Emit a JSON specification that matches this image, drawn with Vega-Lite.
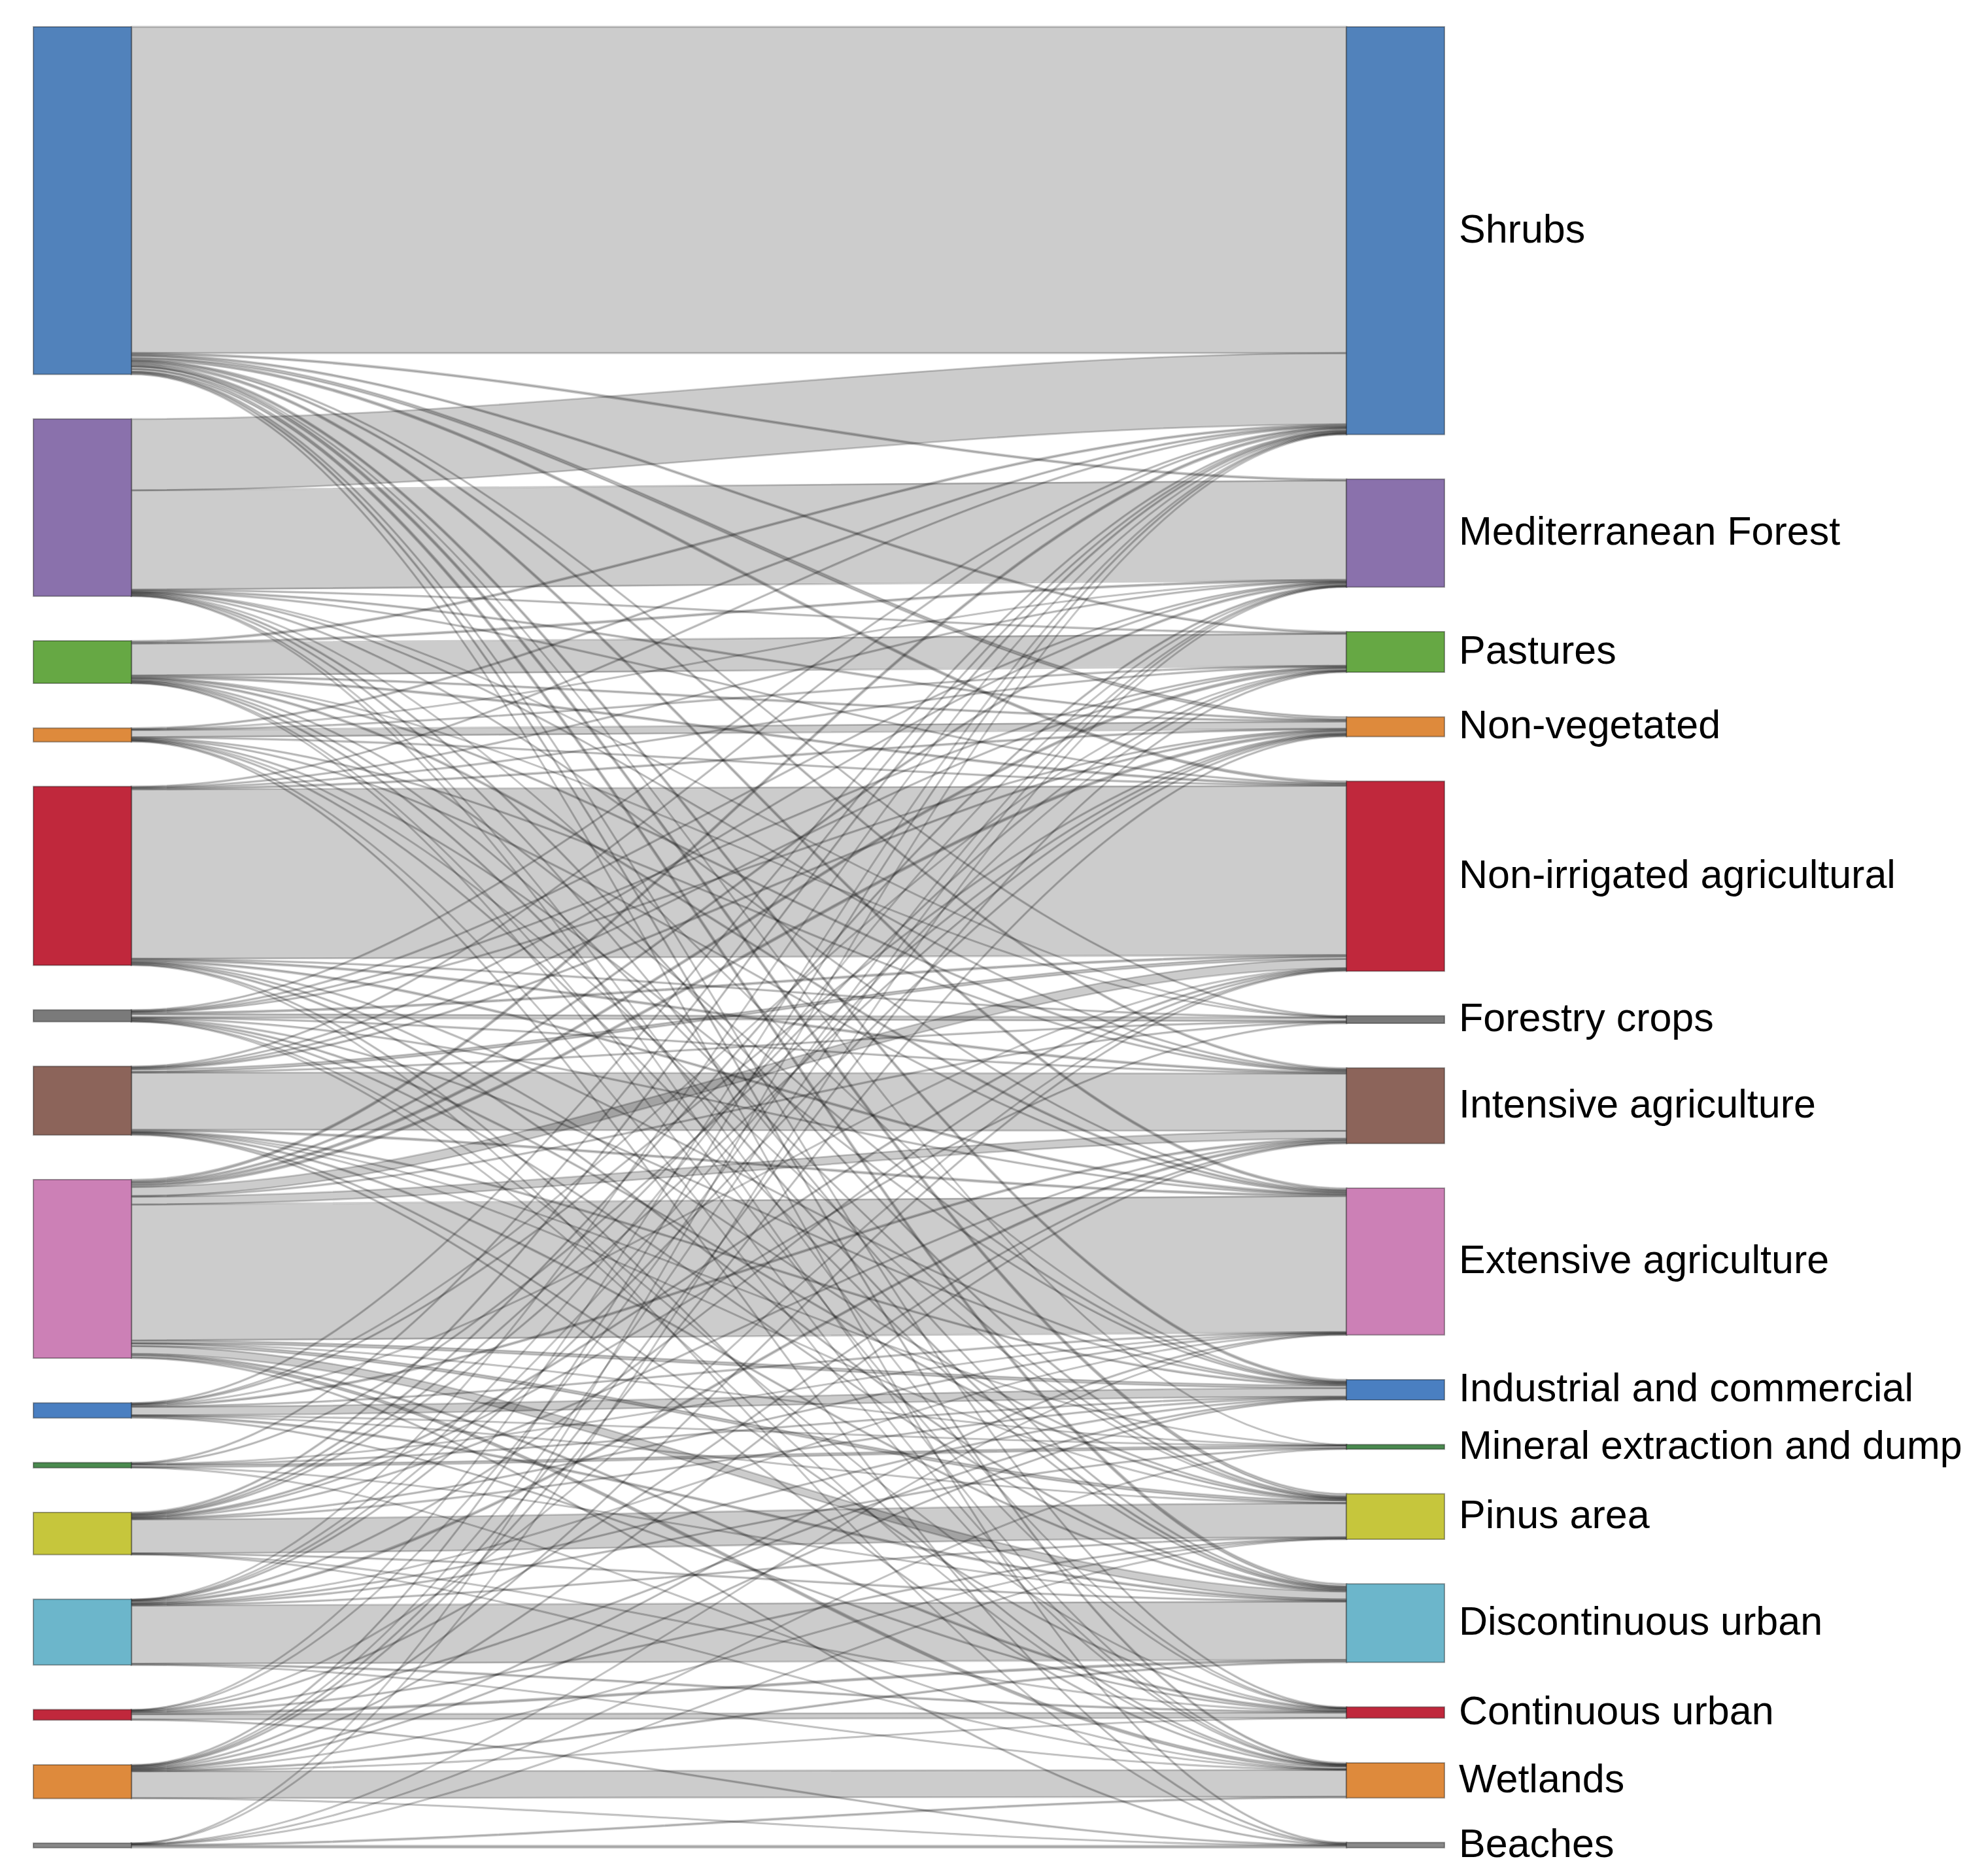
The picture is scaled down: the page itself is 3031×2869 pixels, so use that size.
{
  "$schema": "https://vega.github.io/schema/vega-lite/v6.json",
  "width": 2158,
  "height": 2786,
  "autosize": {"type": "none"},
  "padding": {"left": 51, "top": 41, "right": 822, "bottom": 42},
  "background": "white",
  "config": {"view": {"stroke": null}},
  "datasets": {
    "nodes": [
      {"node": "Shrubs", "rank": 1},
      {"node": "Mediterranean Forest", "rank": 2},
      {"node": "Pastures", "rank": 3},
      {"node": "Non-vegetated", "rank": 4},
      {"node": "Non-irrigated agricultural", "rank": 5},
      {"node": "Forestry crops", "rank": 6},
      {"node": "Intensive agriculture", "rank": 7},
      {"node": "Extensive agriculture", "rank": 8},
      {"node": "Industrial and commercial", "rank": 9},
      {"node": "Mineral extraction and dump", "rank": 10},
      {"node": "Pinus area", "rank": 11},
      {"node": "Discontinuous urban", "rank": 12},
      {"node": "Continuous urban", "rank": 13},
      {"node": "Wetlands", "rank": 14},
      {"node": "Beaches", "rank": 15}
    ],
    "flows": [
      {"from": "Shrubs", "to": "Shrubs", "value": 499},
      {"from": "Shrubs", "to": "Mediterranean Forest", "value": 2},
      {"from": "Shrubs", "to": "Pastures", "value": 2},
      {"from": "Shrubs", "to": "Non-vegetated", "value": 4},
      {"from": "Shrubs", "to": "Non-irrigated agricultural", "value": 3},
      {"from": "Shrubs", "to": "Forestry crops", "value": 1},
      {"from": "Shrubs", "to": "Intensive agriculture", "value": 2},
      {"from": "Shrubs", "to": "Extensive agriculture", "value": 3},
      {"from": "Shrubs", "to": "Industrial and commercial", "value": 3},
      {"from": "Shrubs", "to": "Mineral extraction and dump", "value": 0.5},
      {"from": "Shrubs", "to": "Pinus area", "value": 4},
      {"from": "Shrubs", "to": "Discontinuous urban", "value": 4},
      {"from": "Shrubs", "to": "Continuous urban", "value": 1},
      {"from": "Shrubs", "to": "Wetlands", "value": 2},
      {"from": "Shrubs", "to": "Beaches", "value": 1},
      {"from": "Mediterranean Forest", "to": "Shrubs", "value": 109},
      {"from": "Mediterranean Forest", "to": "Mediterranean Forest", "value": 152},
      {"from": "Mediterranean Forest", "to": "Pastures", "value": 1},
      {"from": "Mediterranean Forest", "to": "Non-vegetated", "value": 1.5},
      {"from": "Mediterranean Forest", "to": "Non-irrigated agricultural", "value": 1},
      {"from": "Mediterranean Forest", "to": "Forestry crops", "value": 0.5},
      {"from": "Mediterranean Forest", "to": "Intensive agriculture", "value": 1},
      {"from": "Mediterranean Forest", "to": "Extensive agriculture", "value": 1},
      {"from": "Mediterranean Forest", "to": "Industrial and commercial", "value": 0.5},
      {"from": "Mediterranean Forest", "to": "Pinus area", "value": 1.5},
      {"from": "Mediterranean Forest", "to": "Discontinuous urban", "value": 1},
      {"from": "Mediterranean Forest", "to": "Continuous urban", "value": 0.5},
      {"from": "Mediterranean Forest", "to": "Wetlands", "value": 0.5},
      {"from": "Pastures", "to": "Shrubs", "value": 2},
      {"from": "Pastures", "to": "Mediterranean Forest", "value": 2},
      {"from": "Pastures", "to": "Pastures", "value": 49},
      {"from": "Pastures", "to": "Non-vegetated", "value": 1.5},
      {"from": "Pastures", "to": "Non-irrigated agricultural", "value": 2},
      {"from": "Pastures", "to": "Forestry crops", "value": 0.5},
      {"from": "Pastures", "to": "Intensive agriculture", "value": 1.5},
      {"from": "Pastures", "to": "Extensive agriculture", "value": 2},
      {"from": "Pastures", "to": "Industrial and commercial", "value": 1},
      {"from": "Pastures", "to": "Pinus area", "value": 1},
      {"from": "Pastures", "to": "Discontinuous urban", "value": 1.5},
      {"from": "Pastures", "to": "Continuous urban", "value": 0.5},
      {"from": "Pastures", "to": "Wetlands", "value": 0.5},
      {"from": "Non-vegetated", "to": "Shrubs", "value": 1.5},
      {"from": "Non-vegetated", "to": "Mediterranean Forest", "value": 0.5},
      {"from": "Non-vegetated", "to": "Pastures", "value": 1},
      {"from": "Non-vegetated", "to": "Non-vegetated", "value": 11},
      {"from": "Non-vegetated", "to": "Non-irrigated agricultural", "value": 1},
      {"from": "Non-vegetated", "to": "Intensive agriculture", "value": 1},
      {"from": "Non-vegetated", "to": "Extensive agriculture", "value": 1},
      {"from": "Non-vegetated", "to": "Industrial and commercial", "value": 1},
      {"from": "Non-vegetated", "to": "Pinus area", "value": 0.5},
      {"from": "Non-vegetated", "to": "Discontinuous urban", "value": 1},
      {"from": "Non-vegetated", "to": "Wetlands", "value": 0.5},
      {"from": "Non-vegetated", "to": "Beaches", "value": 1},
      {"from": "Non-irrigated agricultural", "to": "Shrubs", "value": 1},
      {"from": "Non-irrigated agricultural", "to": "Mediterranean Forest", "value": 1},
      {"from": "Non-irrigated agricultural", "to": "Pastures", "value": 1},
      {"from": "Non-irrigated agricultural", "to": "Non-vegetated", "value": 1.5},
      {"from": "Non-irrigated agricultural", "to": "Non-irrigated agricultural", "value": 259},
      {"from": "Non-irrigated agricultural", "to": "Forestry crops", "value": 1},
      {"from": "Non-irrigated agricultural", "to": "Intensive agriculture", "value": 2},
      {"from": "Non-irrigated agricultural", "to": "Extensive agriculture", "value": 2},
      {"from": "Non-irrigated agricultural", "to": "Industrial and commercial", "value": 1},
      {"from": "Non-irrigated agricultural", "to": "Pinus area", "value": 1},
      {"from": "Non-irrigated agricultural", "to": "Discontinuous urban", "value": 1.5},
      {"from": "Non-irrigated agricultural", "to": "Wetlands", "value": 1},
      {"from": "Non-irrigated agricultural", "to": "Beaches", "value": 0.5},
      {"from": "Forestry crops", "to": "Shrubs", "value": 1},
      {"from": "Forestry crops", "to": "Mediterranean Forest", "value": 1},
      {"from": "Forestry crops", "to": "Pastures", "value": 1},
      {"from": "Forestry crops", "to": "Non-vegetated", "value": 1},
      {"from": "Forestry crops", "to": "Non-irrigated agricultural", "value": 2},
      {"from": "Forestry crops", "to": "Forestry crops", "value": 5.5},
      {"from": "Forestry crops", "to": "Intensive agriculture", "value": 1},
      {"from": "Forestry crops", "to": "Extensive agriculture", "value": 1},
      {"from": "Forestry crops", "to": "Industrial and commercial", "value": 1},
      {"from": "Forestry crops", "to": "Pinus area", "value": 1.5},
      {"from": "Forestry crops", "to": "Discontinuous urban", "value": 1},
      {"from": "Forestry crops", "to": "Continuous urban", "value": 0.5},
      {"from": "Forestry crops", "to": "Wetlands", "value": 0.5},
      {"from": "Intensive agriculture", "to": "Shrubs", "value": 1},
      {"from": "Intensive agriculture", "to": "Mediterranean Forest", "value": 1},
      {"from": "Intensive agriculture", "to": "Pastures", "value": 1},
      {"from": "Intensive agriculture", "to": "Non-vegetated", "value": 1.5},
      {"from": "Intensive agriculture", "to": "Non-irrigated agricultural", "value": 4},
      {"from": "Intensive agriculture", "to": "Forestry crops", "value": 1},
      {"from": "Intensive agriculture", "to": "Intensive agriculture", "value": 87.5},
      {"from": "Intensive agriculture", "to": "Extensive agriculture", "value": 2},
      {"from": "Intensive agriculture", "to": "Industrial and commercial", "value": 1.5},
      {"from": "Intensive agriculture", "to": "Mineral extraction and dump", "value": 0.5},
      {"from": "Intensive agriculture", "to": "Pinus area", "value": 0.5},
      {"from": "Intensive agriculture", "to": "Discontinuous urban", "value": 1.5},
      {"from": "Intensive agriculture", "to": "Continuous urban", "value": 1},
      {"from": "Intensive agriculture", "to": "Wetlands", "value": 1},
      {"from": "Extensive agriculture", "to": "Shrubs", "value": 3},
      {"from": "Extensive agriculture", "to": "Mediterranean Forest", "value": 2},
      {"from": "Extensive agriculture", "to": "Pastures", "value": 3},
      {"from": "Extensive agriculture", "to": "Non-vegetated", "value": 3},
      {"from": "Extensive agriculture", "to": "Non-irrigated agricultural", "value": 14},
      {"from": "Extensive agriculture", "to": "Forestry crops", "value": 1},
      {"from": "Extensive agriculture", "to": "Intensive agriculture", "value": 12},
      {"from": "Extensive agriculture", "to": "Extensive agriculture", "value": 208},
      {"from": "Extensive agriculture", "to": "Industrial and commercial", "value": 4},
      {"from": "Extensive agriculture", "to": "Mineral extraction and dump", "value": 0.5},
      {"from": "Extensive agriculture", "to": "Pinus area", "value": 4},
      {"from": "Extensive agriculture", "to": "Discontinuous urban", "value": 12},
      {"from": "Extensive agriculture", "to": "Continuous urban", "value": 2},
      {"from": "Extensive agriculture", "to": "Wetlands", "value": 3.5},
      {"from": "Extensive agriculture", "to": "Beaches", "value": 1},
      {"from": "Industrial and commercial", "to": "Shrubs", "value": 1},
      {"from": "Industrial and commercial", "to": "Pastures", "value": 0.5},
      {"from": "Industrial and commercial", "to": "Non-vegetated", "value": 1},
      {"from": "Industrial and commercial", "to": "Non-irrigated agricultural", "value": 0.5},
      {"from": "Industrial and commercial", "to": "Intensive agriculture", "value": 2},
      {"from": "Industrial and commercial", "to": "Extensive agriculture", "value": 1},
      {"from": "Industrial and commercial", "to": "Industrial and commercial", "value": 13},
      {"from": "Industrial and commercial", "to": "Mineral extraction and dump", "value": 0.5},
      {"from": "Industrial and commercial", "to": "Pinus area", "value": 0.5},
      {"from": "Industrial and commercial", "to": "Discontinuous urban", "value": 2},
      {"from": "Industrial and commercial", "to": "Continuous urban", "value": 1},
      {"from": "Mineral extraction and dump", "to": "Shrubs", "value": 1},
      {"from": "Mineral extraction and dump", "to": "Non-vegetated", "value": 1},
      {"from": "Mineral extraction and dump", "to": "Extensive agriculture", "value": 0.5},
      {"from": "Mineral extraction and dump", "to": "Industrial and commercial", "value": 1},
      {"from": "Mineral extraction and dump", "to": "Mineral extraction and dump", "value": 3.5},
      {"from": "Mineral extraction and dump", "to": "Discontinuous urban", "value": 0.5},
      {"from": "Mineral extraction and dump", "to": "Wetlands", "value": 0.5},
      {"from": "Pinus area", "to": "Shrubs", "value": 1.5},
      {"from": "Pinus area", "to": "Mediterranean Forest", "value": 1.5},
      {"from": "Pinus area", "to": "Pastures", "value": 1},
      {"from": "Pinus area", "to": "Non-vegetated", "value": 1},
      {"from": "Pinus area", "to": "Non-irrigated agricultural", "value": 1.5},
      {"from": "Pinus area", "to": "Forestry crops", "value": 1},
      {"from": "Pinus area", "to": "Intensive agriculture", "value": 1},
      {"from": "Pinus area", "to": "Extensive agriculture", "value": 1},
      {"from": "Pinus area", "to": "Industrial and commercial", "value": 1},
      {"from": "Pinus area", "to": "Pinus area", "value": 52},
      {"from": "Pinus area", "to": "Discontinuous urban", "value": 1},
      {"from": "Pinus area", "to": "Continuous urban", "value": 0.5},
      {"from": "Pinus area", "to": "Wetlands", "value": 0.5},
      {"from": "Discontinuous urban", "to": "Shrubs", "value": 0.5},
      {"from": "Discontinuous urban", "to": "Mediterranean Forest", "value": 0.5},
      {"from": "Discontinuous urban", "to": "Pastures", "value": 0.5},
      {"from": "Discontinuous urban", "to": "Non-vegetated", "value": 1},
      {"from": "Discontinuous urban", "to": "Non-irrigated agricultural", "value": 1},
      {"from": "Discontinuous urban", "to": "Intensive agriculture", "value": 2.5},
      {"from": "Discontinuous urban", "to": "Extensive agriculture", "value": 0.5},
      {"from": "Discontinuous urban", "to": "Industrial and commercial", "value": 1},
      {"from": "Discontinuous urban", "to": "Mineral extraction and dump", "value": 1},
      {"from": "Discontinuous urban", "to": "Pinus area", "value": 1},
      {"from": "Discontinuous urban", "to": "Discontinuous urban", "value": 89},
      {"from": "Discontinuous urban", "to": "Continuous urban", "value": 1.5},
      {"from": "Discontinuous urban", "to": "Wetlands", "value": 0.5},
      {"from": "Continuous urban", "to": "Shrubs", "value": 0.5},
      {"from": "Continuous urban", "to": "Mediterranean Forest", "value": 0.5},
      {"from": "Continuous urban", "to": "Non-irrigated agricultural", "value": 0.5},
      {"from": "Continuous urban", "to": "Intensive agriculture", "value": 1},
      {"from": "Continuous urban", "to": "Industrial and commercial", "value": 1},
      {"from": "Continuous urban", "to": "Pinus area", "value": 1},
      {"from": "Continuous urban", "to": "Discontinuous urban", "value": 2.5},
      {"from": "Continuous urban", "to": "Continuous urban", "value": 8},
      {"from": "Continuous urban", "to": "Beaches", "value": 1},
      {"from": "Wetlands", "to": "Shrubs", "value": 1},
      {"from": "Wetlands", "to": "Mediterranean Forest", "value": 0.5},
      {"from": "Wetlands", "to": "Pastures", "value": 1},
      {"from": "Wetlands", "to": "Non-vegetated", "value": 1},
      {"from": "Wetlands", "to": "Non-irrigated agricultural", "value": 1},
      {"from": "Wetlands", "to": "Intensive agriculture", "value": 1},
      {"from": "Wetlands", "to": "Extensive agriculture", "value": 1},
      {"from": "Wetlands", "to": "Industrial and commercial", "value": 1},
      {"from": "Wetlands", "to": "Pinus area", "value": 0.5},
      {"from": "Wetlands", "to": "Discontinuous urban", "value": 1.5},
      {"from": "Wetlands", "to": "Continuous urban", "value": 0.5},
      {"from": "Wetlands", "to": "Wetlands", "value": 41},
      {"from": "Wetlands", "to": "Beaches", "value": 0.5},
      {"from": "Beaches", "to": "Shrubs", "value": 0.5},
      {"from": "Beaches", "to": "Mediterranean Forest", "value": 0.5},
      {"from": "Beaches", "to": "Extensive agriculture", "value": 0.5},
      {"from": "Beaches", "to": "Mineral extraction and dump", "value": 0.5},
      {"from": "Beaches", "to": "Pinus area", "value": 0.5},
      {"from": "Beaches", "to": "Wetlands", "value": 1.5},
      {"from": "Beaches", "to": "Beaches", "value": 3}
    ]
  },
  "data": {"name": "flows"},
  "transform": [
    {"lookup": "from", "from": {"data": {"name": "nodes"}, "key": "node", "fields": ["rank"]}, "as": ["sRank"]},
    {"lookup": "to", "from": {"data": {"name": "nodes"}, "key": "node", "fields": ["rank"]}, "as": ["tRank"]},
    {"stack": "value", "groupby": [], "sort": [{"field": "sRank", "order": "ascending"}, {"field": "tRank", "order": "ascending"}], "as": ["a0", "a1"]},
    {"stack": "value", "groupby": [], "sort": [{"field": "tRank", "order": "ascending"}, {"field": "sRank", "order": "ascending"}], "as": ["b0", "b1"]},
    {"calculate": "datum.a0 + (datum.sRank - 1) * 68.3", "as": "sy0"},
    {"calculate": "datum.a1 + (datum.sRank - 1) * 68.3", "as": "sy1"},
    {"calculate": "datum.b0 + (datum.tRank - 1) * 68.3", "as": "ty0"},
    {"calculate": "datum.b1 + (datum.tRank - 1) * 68.3", "as": "ty1"}
  ],
  "layer": [
    {
      "transform": [
        {"calculate": "[0, 0.001, 0.999, 1]", "as": "t"},
        {"flatten": ["t"]},
        {"calculate": "datum.t < 0.5 ? datum.sy0 : datum.ty0", "as": "top"},
        {"calculate": "datum.t < 0.5 ? datum.sy1 : datum.ty1", "as": "bot"}
      ],
      "mark": {"type": "area", "interpolate": "monotone", "fill": "#000000", "fillOpacity": 0.2, "stroke": "#000000", "strokeOpacity": 0.2, "strokeWidth": 2.8},
      "encoding": {
        "x": {"field": "t", "type": "quantitative", "scale": {"domain": [-0.0807, 1.0807], "nice": false, "zero": false}, "axis": null},
        "y": {"field": "top", "type": "quantitative", "scale": {"domain": [0, 2786], "reverse": true, "nice": false, "zero": false}, "axis": null},
        "y2": {"field": "bot"},
        "detail": [{"field": "from"}, {"field": "to"}]
      }
    },
    {
      "transform": [
        {"aggregate": [{"op": "min", "field": "sy0", "as": "n0"}, {"op": "max", "field": "sy1", "as": "n1"}], "groupby": ["from"]}
      ],
      "mark": {"type": "rect", "stroke": "#000000", "strokeOpacity": 0.35, "strokeWidth": 2},
      "encoding": {
        "x": {"datum": -0.0807, "type": "quantitative"},
        "x2": {"datum": 0},
        "y": {"field": "n0", "type": "quantitative"},
        "y2": {"field": "n1"},
        "color": {
          "field": "from", "type": "nominal", "legend": null,
          "scale": {
            "domain": ["Shrubs", "Mediterranean Forest", "Pastures", "Non-vegetated", "Non-irrigated agricultural", "Forestry crops", "Intensive agriculture", "Extensive agriculture", "Industrial and commercial", "Mineral extraction and dump", "Pinus area", "Discontinuous urban", "Continuous urban", "Wetlands", "Beaches"],
            "range": ["#5182bb", "#8a71ac", "#66a844", "#de8a3c", "#c0283c", "#7a7a7a", "#8c645a", "#cc80b6", "#4a7fc1", "#4a8a4f", "#c6c63c", "#6cb6cb", "#c0283c", "#de8a3c", "#888888"]
          }
        }
      }
    },
    {
      "transform": [
        {"aggregate": [{"op": "min", "field": "ty0", "as": "n0"}, {"op": "max", "field": "ty1", "as": "n1"}], "groupby": ["to"]}
      ],
      "mark": {"type": "rect", "stroke": "#000000", "strokeOpacity": 0.35, "strokeWidth": 2},
      "encoding": {
        "x": {"datum": 1, "type": "quantitative"},
        "x2": {"datum": 1.0807},
        "y": {"field": "n0", "type": "quantitative"},
        "y2": {"field": "n1"},
        "color": {
          "field": "to", "type": "nominal", "legend": null,
          "scale": {
            "domain": ["Shrubs", "Mediterranean Forest", "Pastures", "Non-vegetated", "Non-irrigated agricultural", "Forestry crops", "Intensive agriculture", "Extensive agriculture", "Industrial and commercial", "Mineral extraction and dump", "Pinus area", "Discontinuous urban", "Continuous urban", "Wetlands", "Beaches"],
            "range": ["#5182bb", "#8a71ac", "#66a844", "#de8a3c", "#c0283c", "#7a7a7a", "#8c645a", "#cc80b6", "#4a7fc1", "#4a8a4f", "#c6c63c", "#6cb6cb", "#c0283c", "#de8a3c", "#888888"]
          }
        }
      }
    },
    {
      "transform": [
        {"aggregate": [{"op": "min", "field": "ty0", "as": "n0"}, {"op": "max", "field": "ty1", "as": "n1"}], "groupby": ["to"]},
        {"calculate": "(datum.n0 + datum.n1) / 2", "as": "mid"}
      ],
      "mark": {"type": "text", "align": "left", "baseline": "middle", "dx": 22, "font": "Liberation Sans", "fontSize": 61, "color": "#000000"},
      "encoding": {
        "x": {"datum": 1.0807, "type": "quantitative"},
        "y": {"field": "mid", "type": "quantitative"},
        "text": {"field": "to", "type": "nominal"}
      }
    }
  ]
}
